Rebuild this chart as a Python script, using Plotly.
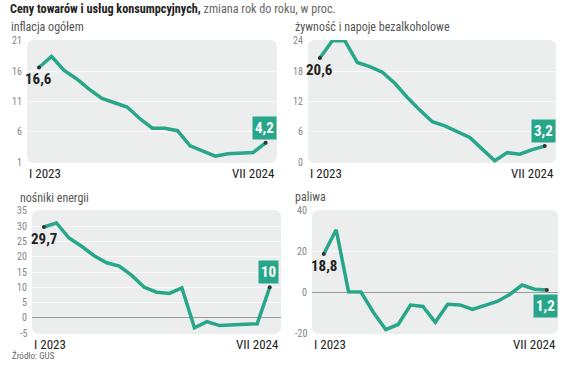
import plotly.graph_objects as go

months = ["I 2023", "II 2023", "III 2023", "IV 2023", "V 2023", "VI 2023", "VII 2023",
          "VIII 2023", "IX 2023", "X 2023", "XI 2023", "XII 2023", "I 2024", "II 2024",
          "III 2024", "IV 2024", "V 2024", "VI 2024", "VII 2024"]
inflacja = [16.6, 18.4, 16.1, 14.7, 13.0, 11.5, 10.8, 10.1, 8.2, 6.6, 6.6, 6.2, 3.7, 2.8, 2.0, 2.4, 2.5, 2.6, 4.2]
zywnosc = [20.6, 24.0, 24.0, 19.7, 18.9, 17.8, 15.6, 12.8, 10.3, 8.0, 7.2, 6.0, 4.9, 2.6, 0.3, 1.9, 1.6, 2.5, 3.2]
energia = [29.7, 31.0, 26.1, 23.4, 20.3, 18.0, 16.9, 13.9, 10.0, 8.4, 8.0, 9.8, -3.2, -1.2, -2.5, -2.3, -2.1, -1.9, 10.0]
paliwa = [18.8, 30.7, 0.3, 0.2, -9.7, -18.2, -15.7, -6.2, -6.9, -14.6, -5.8, -6.1, -8.3, -6.3, -4.4, -1.0, 3.6, 1.6, 1.2]

titles = ["inflacja ogółem", "żywność i napoje bezalkoholowe", "nośniki energii", "paliwa"]
series = [inflacja, zywnosc, energia, paliwa]
yranges = [[1, 21], [0, 24], [-5, 35], [-20, 40]]
ytickvals = [[1, 6, 11, 16, 21], [0, 6, 12, 18, 24], [-5, 0, 5, 10, 15, 20, 25, 30, 35], [-20, 0, 20, 40]]
end_label_below = [False, False, False, True]

W, H = 564, 365
COND = "Roboto Condensed, Roboto, sans-serif"
TEAL = "#27a689"
DARK = "#222222"

# pixel boxes of plot areas: (x0, x1, ytop, ybottom)
boxes = [(27, 277, 40, 163), (308, 556, 40, 163), (32, 281, 210, 334), (312, 558, 210, 334)]

fig = go.Figure()
layout = dict(
    width=W, height=H, margin=dict(l=0, r=0, t=0, b=0),
    paper_bgcolor="white", plot_bgcolor="rgba(0,0,0,0)",
    showlegend=False, font=dict(family=COND, color=DARK),
)
annotations = []
shapes = []


def fmt(v):
    s = f"{v:.1f}".replace(".", ",")
    return s[:-2] if s.endswith(",0") else s


for i in range(4):
    n = i + 1
    xa = "x" if n == 1 else f"x{n}"
    ya = "y" if n == 1 else f"y{n}"
    x0, x1, yt, yb = boxes[i]
    lo, hi = yranges[i]
    eps = (hi - lo) * 0.006
    layout[f"xaxis{'' if n == 1 else n}"] = dict(
        domain=[x0 / W, x1 / W], anchor=ya, type="category",
        range=[-0.95, len(months) - 1 + 0.9], showticklabels=False, showgrid=False,
        zeroline=False, showline=False, ticks="", fixedrange=True,
    )
    layout[f"yaxis{'' if n == 1 else n}"] = dict(
        domain=[1 - yb / H, 1 - yt / H], anchor=xa, range=[lo - eps, hi + eps],
        tickmode="array", tickvals=ytickvals[i], showticklabels=False,
        ticks="", showline=False,
        showgrid=True, gridcolor="#f9f9f9", gridwidth=1,
        zeroline=(lo < 0), zerolinecolor="#9a9a9a", zerolinewidth=1,
        fixedrange=True,
    )
    # y tick labels placed on the axis scale
    for v in ytickvals[i]:
        annotations.append(dict(x=0, y=v, xref=f"{xa} domain", yref=ya, text=str(v),
                                showarrow=False, xanchor="right", yanchor="middle", xshift=-3,
                                font=dict(size=10, color="#858585", family=COND)))
    # rounded background
    rx = 7 / (x1 - x0)
    ry = 7 / (yb - yt)
    path = (f"M {rx},0 L {1-rx},0 Q 1,0 1,{ry} L 1,{1-ry} Q 1,1 {1-rx},1 "
            f"L {rx},1 Q 0,1 0,{1-ry} L 0,{ry} Q 0,0 {rx},0 Z")
    shapes.append(dict(type="path", path=path, xref=f"{xa} domain", yref=f"{ya} domain",
                       fillcolor="#eceeee", line=dict(width=0), layer="below"))

    vals = series[i]
    fig.add_trace(go.Scatter(x=months, y=vals, mode="lines", xaxis=xa, yaxis=ya,
                             line=dict(color=TEAL, width=3.5), hoverinfo="skip"))
    fig.add_trace(go.Scatter(x=[months[0], months[-1]], y=[vals[0], vals[-1]], mode="markers",
                             xaxis=xa, yaxis=ya, marker=dict(color="#333333", size=4),
                             cliponaxis=False, hoverinfo="skip"))

    annotations.append(dict(x=months[0], y=vals[0], xref=xa, yref=ya, text=f"<b>{fmt(vals[0])}</b>",
                            showarrow=False, yshift=-12, font=dict(size=15, color=DARK, family=COND)))
    annotations.append(dict(x=months[-1], y=vals[-1], xref=xa, yref=ya, text=f"<b>{fmt(vals[-1])}</b>",
                            showarrow=False, yshift=(-16 if end_label_below[i] else 15), xshift=-1,
                            bgcolor=TEAL, borderpad=2,
                            font=dict(size=15, color="white", family=COND)))
    # axis end labels
    annotations.append(dict(x=0, y=0, xref=f"{xa} domain", yref=f"{ya} domain", text=months[0],
                            showarrow=False, xanchor="left", yanchor="top", yshift=-1,
                            font=dict(size=13, color=DARK, family=COND)))
    annotations.append(dict(x=1, y=0, xref=f"{xa} domain", yref=f"{ya} domain", text=months[-1],
                            showarrow=False, xanchor="right", yanchor="top", yshift=-1,
                            font=dict(size=13, color=DARK, family=COND)))
    # panel title
    tx = [9, 293, 18, 293][i]
    ty = [27, 27, 198, 197][i]
    annotations.append(dict(x=tx / W, y=1 - ty / H, xref="paper", yref="paper", text=titles[i],
                            showarrow=False, xanchor="left", yanchor="middle",
                            font=dict(size=12, color="#555555", family=COND)))

annotations.append(dict(x=8 / W, y=1 - 9 / H, xref="paper", yref="paper",
                        text="<b>Ceny towarów i usług konsumpcyjnych,</b> <span style='color:#666666'>zmiana rok do roku, w proc.</span>",
                        showarrow=False, xanchor="left", yanchor="middle",
                        font=dict(size=12.2, color=DARK, family=COND)))
annotations.append(dict(x=10 / W, y=1 - 355 / H, xref="paper", yref="paper", text="Źródło: GUS",
                        showarrow=False, xanchor="left", yanchor="middle",
                        font=dict(size=9, color="#666666", family=COND)))

layout["annotations"] = annotations
layout["shapes"] = shapes
fig.update_layout(**layout)
fig.write_html("out.html", config={"displayModeBar": False},
               post_script="document.body.style.margin='0';")
